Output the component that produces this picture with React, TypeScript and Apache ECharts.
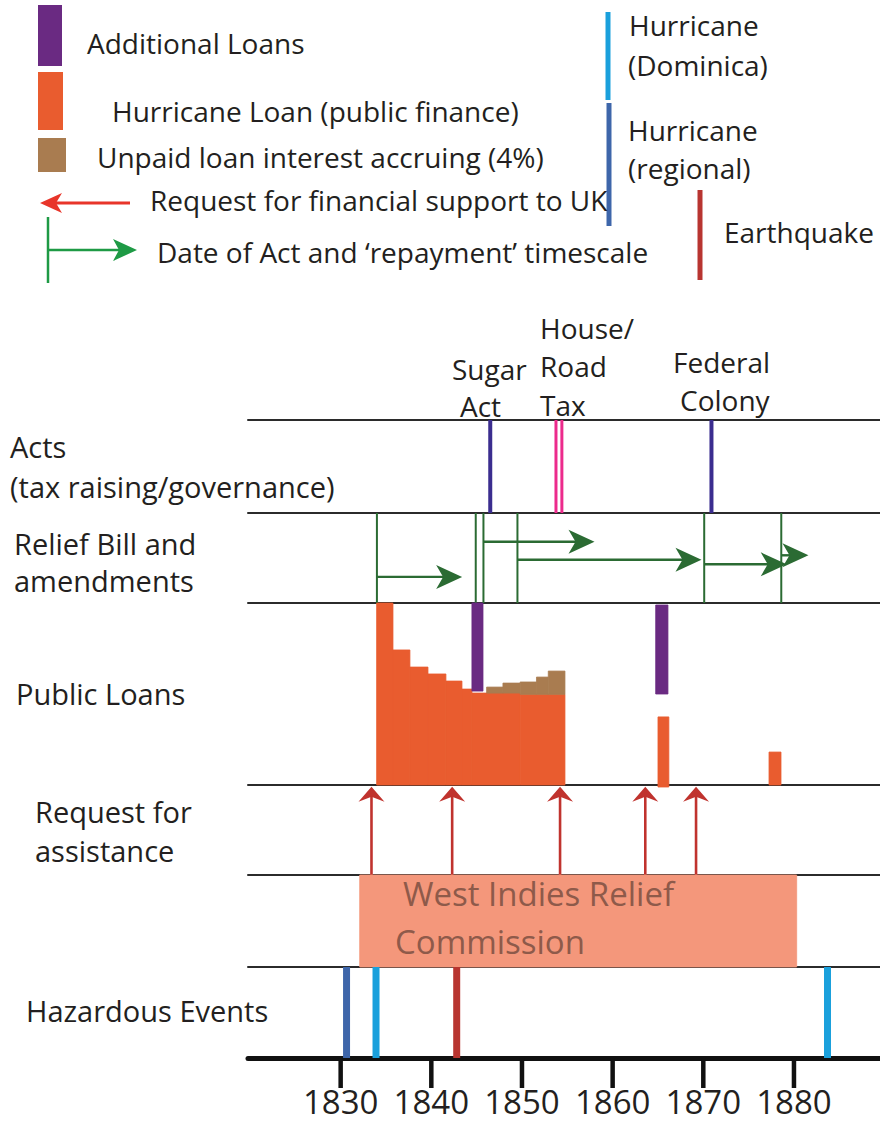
import React, { useEffect, useRef } from 'react';
import * as echarts from 'echarts';

// ---------- data (years on the time axis, row values 0-100) ----------
const YEAR_MIN = 1819.78;
const YEAR_MAX = 1889.49;
const tickYears = [1830, 1840, 1850, 1860, 1870, 1880];

const governanceActs = [1846.5, 1870.9]; // Sugar Act, Federal Colony
const houseRoadTaxActs = [1853.75, 1854.4];

const reliefBillDates = [1834.0, 1844.9, 1845.75, 1849.5, 1870.1, 1878.6];
// [start year, end year, level]
const reliefTimescales = [
  [1834.0, 1843.4, 29],
  [1845.75, 1858.0, 68],
  [1849.5, 1869.8, 48],
  [1870.1, 1879.2, 43],
  [1878.6, 1881.6, 53],
];

// [start year, end year, bottom, top]
const hurricaneLoans = [
  [1833.97, 1835.77, 0, 100],
  [1835.77, 1837.64, 0, 74.2],
  [1837.64, 1839.63, 0, 64.8],
  [1839.63, 1841.61, 0, 61.0],
  [1841.61, 1843.38, 0, 57.1],
  [1843.38, 1844.48, 0, 52.7],
  [1844.48, 1849.8, 0, 50.5],
  [1849.8, 1854.74, 0, 49.8],
  [1865.0, 1866.2, -1.1, 37.4],
  [1877.25, 1878.57, 0, 18.1],
];
const unpaidInterest = [
  [1846.1, 1847.9, 50.5, 53.8],
  [1847.9, 1849.8, 50.5, 56.0],
  [1849.8, 1851.6, 49.8, 56.6],
  [1851.6, 1852.9, 49.8, 59.3],
  [1852.9, 1854.74, 49.8, 62.6],
];
const additionalLoans = [
  [1844.48, 1845.7, 51.6, 100],
  [1864.75, 1866.1, 50.0, 98.9],
];
const requestYears = [1833.4, 1842.3, 1854.2, 1863.6, 1869.2];
const commissionSpan = [[1832.1, 1880.3, 0, 100]];
const regionalHurricanes = [1830.65];
const dominicaHurricanes = [1833.9, 1883.7];
const earthquakes = [1842.8];

// ---------- layout & style ----------
const FONT = "'Open Sans', sans-serif";
const TXT = '#231f20';
const rows = [
  { top: 420, height: 93 },
  { top: 513, height: 90 },
  { top: 603, height: 182 },
  { top: 785, height: 90 },
  { top: 875, height: 92 },
  { top: 967, height: 91 },
  { top: 1058, height: 30 }, // tick strip under the time axis
];
const AXIS_ROW = 5;
const TICK_ROW = 6;

function vlines(grid: number, years: number[], color: string, width: number, y0 = 0, y1 = 100) {
  return {
    type: 'custom',
    xAxisIndex: grid,
    yAxisIndex: grid,
    clip: false,
    data: years.map((y) => [y, 0]),
    renderItem: (_p: any, api: any) => {
      const a = api.coord([api.value(0), y0]);
      const b = api.coord([api.value(0), y1]);
      return {
        type: 'line',
        shape: { x1: a[0], y1: a[1], x2: b[0], y2: b[1] },
        style: { stroke: color, lineWidth: width },
      };
    },
  };
}

function rects(grid: number, items: number[][], color: string) {
  return {
    type: 'custom',
    xAxisIndex: grid,
    yAxisIndex: grid,
    clip: false,
    data: items,
    renderItem: (_p: any, api: any) => {
      const a = api.coord([api.value(0), api.value(3)]);
      const b = api.coord([api.value(1), api.value(2)]);
      return {
        type: 'rect',
        shape: { x: a[0], y: a[1], width: b[0] - a[0], height: b[1] - a[1] },
        style: { fill: color, stroke: color, lineWidth: 0.8 },
      };
    },
  };
}

function rightArrows(grid: number, items: number[][], color: string) {
  return {
    type: 'custom',
    xAxisIndex: grid,
    yAxisIndex: grid,
    clip: false,
    data: items,
    renderItem: (_p: any, api: any) => {
      const s = api.coord([api.value(0), api.value(2)]);
      const e = api.coord([api.value(1), api.value(2)]);
      return {
        type: 'group',
        children: [
          {
            type: 'line',
            shape: { x1: s[0], y1: s[1], x2: e[0] - 14, y2: e[1] },
            style: { stroke: color, lineWidth: 2.4 },
          },
          {
            type: 'polygon',
            shape: {
              points: [
                [e[0], e[1]],
                [e[0] - 26, e[1] - 12],
                [e[0] - 19, e[1]],
                [e[0] - 26, e[1] + 12],
              ],
            },
            style: { fill: color },
          },
        ],
      };
    },
  };
}

function upArrows(grid: number, years: number[], color: string) {
  return {
    type: 'custom',
    xAxisIndex: grid,
    yAxisIndex: grid,
    clip: false,
    data: years.map((y) => [y, 0]),
    renderItem: (_p: any, api: any) => {
      const b = api.coord([api.value(0), 0]);
      const t = api.coord([api.value(0), 98]);
      return {
        type: 'group',
        children: [
          {
            type: 'line',
            shape: { x1: b[0], y1: b[1], x2: t[0], y2: t[1] + 8 },
            style: { stroke: color, lineWidth: 2.6 },
          },
          {
            type: 'polygon',
            shape: {
              points: [
                [t[0], t[1]],
                [t[0] + 13, t[1] + 15],
                [t[0], t[1] + 10],
                [t[0] - 13, t[1] + 15],
              ],
            },
            style: { fill: color },
          },
        ],
      };
    },
  };
}

function txt(text: string, x: number, y: number, size: number, fill = TXT, align = 'left') {
  return {
    type: 'text',
    x,
    y,
    z: 100,
    style: { text, fontSize: size, fontFamily: FONT, fill, align, verticalAlign: 'middle' },
  };
}

export default function App() {
  const ref = useRef<HTMLDivElement>(null);
  useEffect(() => {
    if (!ref.current) return;
    const chart = echarts.init(ref.current, undefined, { renderer: 'svg' });

    const grids = rows.map((r) => ({ left: 248, right: 0, top: r.top, height: r.height }));
    const xAxes: any[] = rows.map((_r, i) => ({
      gridIndex: i,
      type: 'value',
      min: YEAR_MIN,
      max: YEAR_MAX,
      position: 'bottom',
      axisLine: {
        show: i !== TICK_ROW,
        onZero: false,
        lineStyle: i === AXIS_ROW ? { color: '#111', width: 5 } : { color: '#2b2b2b', width: 2 },
      },
      axisTick: { show: false },
      axisLabel:
        i === AXIS_ROW
          ? {
              show: true,
              customValues: tickYears,
              fontSize: 33,
              lineHeight: 33,
              fontFamily: FONT,
              color: TXT,
              margin: 27,
              formatter: (v: number) => String(v),
            }
          : { show: false },
      splitLine: { show: false },
    }));
    xAxes.push({
      gridIndex: 0,
      type: 'value',
      min: YEAR_MIN,
      max: YEAR_MAX,
      position: 'top',
      axisLine: { show: true, onZero: false, lineStyle: { color: '#2b2b2b', width: 2 } },
      axisTick: { show: false },
      axisLabel: { show: false },
      splitLine: { show: false },
    });
    const yAxes = rows.map((_r, i) => ({ gridIndex: i, type: 'value', min: 0, max: 100, show: false }));

    const series: any[] = [
      // Acts
      vlines(0, governanceActs, '#3b2d8f', 4),
      vlines(0, houseRoadTaxActs, '#ec2a8c', 3),
      // Relief bill
      vlines(1, reliefBillDates, '#2b6b33', 2),
      rightArrows(1, reliefTimescales, '#2b6b33'),
      // Public loans
      rects(2, hurricaneLoans, '#e95c2f'),
      rects(2, unpaidInterest, '#a97c50'),
      rects(2, additionalLoans, '#6a2a82'),
      // Requests
      upArrows(3, requestYears, '#c0332e'),
      // Commission
      rects(4, commissionSpan, '#f4977b'),
      // Hazards
      vlines(5, regionalHurricanes, '#3e66aa', 7),
      vlines(5, dominicaHurricanes, '#1aa0dc', 7),
      vlines(5, earthquakes, '#b83530', 7),
      // axis ticks
      vlines(TICK_ROW, tickYears, '#111', 4.5),
    ];

    const graphic: any[] = [
      // legend
      { type: 'rect', shape: { x: 38, y: 5, width: 24, height: 61 }, style: { fill: '#6a2a82' } },
      txt('Additional Loans', 87, 43, 28),
      { type: 'rect', shape: { x: 38, y: 72, width: 25, height: 58 }, style: { fill: '#e95c2f' } },
      txt('Hurricane Loan (public finance)', 112, 111, 28),
      { type: 'rect', shape: { x: 38, y: 138, width: 28, height: 34 }, style: { fill: '#a97c50' } },
      txt('Unpaid loan interest accruing (4%)', 97, 157, 28),
      { type: 'line', shape: { x1: 52, y1: 203, x2: 130, y2: 203 }, style: { stroke: '#e8352a', lineWidth: 3 } },
      {
        type: 'polygon',
        shape: { points: [[40, 203], [62, 193], [56, 203], [62, 213]] },
        style: { fill: '#e8352a' },
      },
      txt('Request for financial support to UK', 150, 200, 28),
      { type: 'line', shape: { x1: 48, y1: 217, x2: 48, y2: 283 }, style: { stroke: '#1e9a45', lineWidth: 2.5 } },
      { type: 'line', shape: { x1: 48, y1: 250, x2: 122, y2: 250 }, style: { stroke: '#1e9a45', lineWidth: 2.5 } },
      {
        type: 'polygon',
        shape: { points: [[137, 250], [113, 239], [119, 250], [113, 261]] },
        style: { fill: '#1e9a45' },
      },
      txt('Date of Act and ‘repayment’ timescale', 157, 252, 28),
      { type: 'line', shape: { x1: 608, y1: 12, x2: 608, y2: 100 }, style: { stroke: '#1aa0dc', lineWidth: 5 } },
      txt('Hurricane', 629, 25, 28),
      txt('(Dominica)', 628, 65, 28),
      { type: 'line', shape: { x1: 609, y1: 103, x2: 609, y2: 226 }, style: { stroke: '#3e66aa', lineWidth: 5 } },
      txt('Hurricane', 628, 130, 28),
      txt('(regional)', 628, 168, 28),
      { type: 'line', shape: { x1: 700, y1: 190, x2: 700, y2: 280 }, style: { stroke: '#b83530', lineWidth: 5 } },
      txt('Earthquake', 724, 232, 28),
      // act headers
      txt('House/', 540, 328, 28),
      txt('Road', 540, 366, 28),
      txt('Tax', 540, 405, 28),
      txt('Sugar', 452, 369, 28),
      txt('Act', 460, 406, 28),
      txt('Federal', 673, 362, 28),
      txt('Colony', 680, 400, 28),
      // row labels
      txt('Acts', 10, 446, 29),
      txt('(tax raising/governance)', 10, 486, 29),
      txt('Relief Bill and', 14, 543, 29),
      txt('amendments', 14, 580, 29),
      txt('Public Loans', 16, 693, 29),
      txt('Request for', 35, 811, 29),
      txt('assistance', 35, 850, 29),
      txt('Hazardous Events', 26, 1010, 29),
      // commission label
      txt('West Indies Relief', 403, 893, 33, '#8e5a4a'),
      txt('Commission', 395, 941, 33, '#8e5a4a'),
    ];

    chart.setOption({
      animation: false,
      backgroundColor: '#ffffff',
      grid: grids,
      xAxis: xAxes,
      yAxis: yAxes,
      series,
      graphic,
    });
    return () => chart.dispose();
  }, []);
  return (
    <div
      ref={ref}
      style={{ position: 'absolute', left: 0, top: 0, width: 880, height: 1126, background: '#fff' }}
    />
  );
}
